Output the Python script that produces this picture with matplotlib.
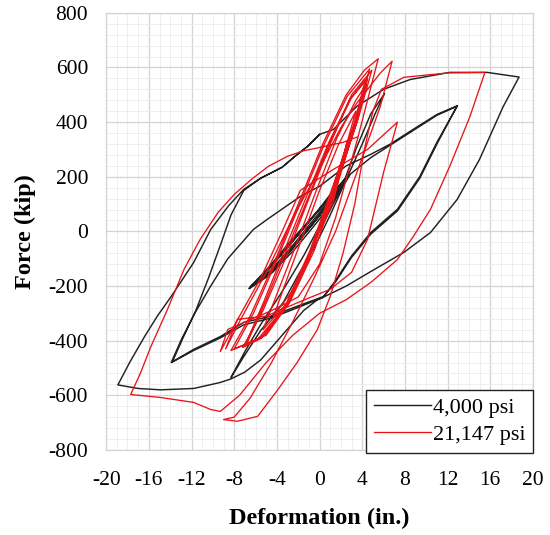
import matplotlib
matplotlib.use("Agg")
import matplotlib.pyplot as plt
from matplotlib.ticker import MultipleLocator

# ---------------- data ----------------
# 4,000 psi specimen: deformation (in.) and force (kip), cycle by cycle
black_elastic_x = [0.0, 1.2, 2.3, 1.4, -0.2, -2.2, -4.4, -6.5, -4.7, -2.6, -0.6, 1.3, 2.4,
                   1.3, -0.4, -2.4, -4.5, -6.6, -4.8, -2.7, -0.7, 1.2, 2.3,
                   1.2, -0.5, -2.5, -4.6, -6.5, -4.6, -2.5, -0.5, 1.4, 2.4,
                   1.1, -0.6, -2.6, -4.7, -6.6, -4.7, -2.6, -0.4, 1.3, 2.3,
                   1.3, -0.3, -2.3, -4.4, -6.4, -4.5, -2.4, -0.5, 1.2, 2.4]
black_elastic_y = [0, 95, 185, 120, 35, -60, -150, -205, -135, -40, 55, 140, 190,
                   125, 40, -55, -148, -208, -138, -42, 50, 135, 188,
                   120, 35, -58, -152, -204, -132, -36, 58, 145, 192,
                   112, 28, -66, -160, -210, -128, -30, 64, 150, 186,
                   130, 44, -50, -142, -200, -140, -46, 46, 128, 194]
black_c6_x = [3.5, 4.8, 6.1, 5.2, 4.0, 2.5, 1.0, -0.5, -2.0, -3.4, -5.5, -7.1, -8.3,
              -7.0, -5.5, -3.5, -1.5, 0.0, 1.5, 2.9, 4.8, 6.6, 8.8, 11.0, 12.9]
black_c6_y = [310, 430, 505, 430, 320, 190, 60, -60, -160, -260, -362, -458, -535,
              -440, -340, -220, -90, 20, 120, 210, 270, 315, 370, 425, 458]
black_c13_x = [11.0, 9.4, 7.3, 4.8, 3.0, 1.5, 0.4, -2.1, -4.6, -7.1, -9.3, -11.8, -13.9,
               -13.0, -11.7, -10.2, -8.6, -6.2, -4.9, -1.8, 0.0, 2.5, 4.8, 6.6, 8.8, 11.0, 12.9,
               11.0, 9.4, 7.3, 4.8, 3.0, 1.5, 0.3, -2.1, -4.6, -7.1, -9.3, -11.8, -13.8,
               -12.8, -11.6, -10.4, -9.2, -8.3, -7.1]
black_c13_y = [326, 201, 81, -4, -90, -180, -238, -274, -311, -333, -385, -432, -480,
               -400, -300, -200, -100, 7, 44, 128, 165, 240, 282, 319, 374, 428, 460,
               320, 195, 75, -10, -95, -185, -242, -280, -318, -342, -390, -436, -478,
               -390, -290, -170, -40, 60, 150]
black_c19_x = [-5.5, -3.9, -3.5, -2.3, -1.1, 0.0, 1.3, 3.5, 6.0, 8.5, 12.2, 15.7, 18.7,
               17.2, 15.0, 12.9, 10.4, 7.9, 4.8, 2.5, 0.4, -0.2, -1.5, -3.5, -5.5, -7.0, -8.3,
               -9.3, -11.8, -14.9, -17.0, -18.9,
               -17.8, -16.4, -15.2, -13.9, -11.8, -10.2, -8.5, -7.1, -5.5, -3.9, -3.5, -2.3, -1.1, 0.0]
black_c19_y = [195, 227, 235, 275, 312, 355, 373, 458, 520, 556, 582, 582, 565,
               456, 264, 117, -4, -77, -147, -200, -240, -250, -290, -380, -470, -515, -540,
               -553, -575, -580, -575, -562,
               -480, -385, -310, -238, -114, 7, 95, 154, 195, 227, 235, 275, 312, 355]

# 21,147 psi specimen
red_steep_x = [0.0, 1.3, 2.6, 1.8, 0.5, -1.0, -2.6, -4.3,
               -3.2, -1.6, 0.0, 1.8, 3.4, 2.4, 0.8, -1.0, -3.0, -5.3,
               -4.0, -2.2, -0.4, 1.6, 3.4, 4.4, 3.3, 1.5, -0.5, -2.8, -5.0, -6.8,
               -5.0, -3.0, -1.0, 1.0, 3.0, 4.5, 3.5, 1.3, -0.8, -3.0, -5.2, -7.0,
               -5.2, -3.3, -1.3, 0.8, 2.8, 4.3, 3.2, 1.1, -1.0, -3.2, -5.4, -7.2,
               -5.3, -3.2, -1.2, 1.0, 3.0, 4.9, 3.6, 1.5, -0.6, -3.0, -5.5, -8.0,
               -6.2, -4.0, -1.9, 0.4, 2.6, 4.7, 3.4, 1.2, -0.9, -3.3, -5.8, -8.3,
               -6.5, -4.2, -2.0, 0.3, 2.5, 4.2, 5.5]
red_steep_y = [0, 110, 330, 210, 60, -90, -220, -310,
               -190, -20, 150, 320, 440, 300, 100, -100, -260, -360,
               -230, -50, 140, 340, 480, 540, 380, 150, -70, -260, -380, -410,
               -250, -60, 130, 330, 490, 560, 400, 140, -80, -270, -380, -420,
               -255, -70, 120, 320, 480, 555, 390, 130, -90, -280, -390, -425,
               -290, -100, 100, 320, 500, 590, 410, 170, -60, -270, -390, -430,
               -300, -105, 95, 315, 495, 595, 405, 160, -70, -280, -395, -436,
               -310, -110, 100, 320, 500, 590, 632]
red_c8_x = [3.5, 1.5, 0.0, -2.0, -4.5, -8.6, -9.3,
            -7.5, -5.5, -3.5, -1.8, 1.3, 4.5, 7.3,
            6.0, 4.5, 3.0, 1.0, -2.0, -5.0, -7.7, -8.8,
            -7.5, -5.0, -2.5, 0.0, 2.0, 3.5, 5.7, 6.8,
            5.7, 3.5, 1.5, -0.5, -2.5, -4.5, -6.5, -8.0, -9.0,
            -7.7, -5.8, -3.9, -2.1, -0.2, 1.0, 2.2, 3.3, 4.2, 5.0, 5.8]
red_c8_y = [330, 50, -120, -240, -290, -359, -440,
            -310, -170, 0, 150, 227, 300, 400,
            216, -29, -150, -212, -260, -310, -322, -430,
            -330, -150, 50, 230, 380, 470, 580, 623,
            458, 216, 0, -170, -330, -480, -610, -680, -689,
            -695, -677, -579, -480, -359, -238, -80, 100, 300, 440, 520]
red_c16_x = [7.9, 12.0, 15.5,
             14.1, 12.2, 10.4, 8.8, 7.3, 4.8, 2.5, 0.0, -2.5, -5.0, -7.5, -9.3,
             -10.2, -11.8, -14.9, -17.7,
             -16.8, -15.8, -14.3, -12.7, -11.2, -9.5, -8.0, -6.4, -4.8, -3.0, -1.5, 0.0, 2.2, 3.5]
red_c16_y = [564, 580, 582,
             421, 238, 81, -18, -103, -187, -250, -300, -380, -480, -600, -659,
             -652, -626, -608, -597,
             -520, -421, -290, -139, -30, 70, 135, 190, 238, 275, 295, 307, 326, 345]

x_ticks = [-20, -16, -12, -8, -4, 0, 4, 8, 12, 16, 20]
y_ticks = [-800, -600, -400, -200, 0, 200, 400, 600, 800]
series_labels = ["4,000 psi", "21,147 psi"]

# ---------------- plot ----------------
plt.rcParams['font.family'] = ['Liberation Serif', 'DejaVu Serif']

fig = plt.figure(figsize=(5.5, 5.35), dpi=100)
ax = fig.add_axes([0.193, 0.159, 0.776, 0.817])

black_x = black_elastic_x + black_c6_x + black_c13_x + black_c19_x
black_y = black_elastic_y + black_c6_y + black_c13_y + black_c19_y
red_x = red_steep_x + red_c8_x + red_c16_x
red_y = red_steep_y + red_c8_y + red_c16_y

ax.plot(black_x, black_y, color='#222222', lw=1.05, label=series_labels[0], zorder=3)
ax.plot(red_x, red_y, color='#e8141a', lw=0.95, label=series_labels[1], zorder=4)

ax.set_xlim(-20, 20)
ax.set_ylim(-800, 800)
ax.set_xticks(x_ticks)
ax.set_yticks(y_ticks)
ax.set_xticklabels([str(v) for v in x_ticks])
ax.set_yticklabels([str(v) for v in y_ticks])
ax.xaxis.set_minor_locator(MultipleLocator(1))
ax.yaxis.set_minor_locator(MultipleLocator(40))
ax.grid(which='major', color='#d4d4d4', lw=0.9, zorder=0)
ax.grid(which='minor', color='#ececec', lw=0.6, zorder=0)
ax.set_axisbelow(True)
ax.tick_params(which='both', length=0)
ax.tick_params(axis='x', pad=15, labelsize=15.5)
ax.tick_params(axis='y', pad=13, labelsize=15.5)
for s in ax.spines.values():
    s.set_color('#d4d4d4')
    s.set_linewidth(0.9)

ax.set_xlabel('Deformation (in.)', fontsize=17.5, fontweight='bold', labelpad=13)
ax.set_ylabel('Force (kip)', fontsize=17.5, fontweight='bold', labelpad=9)

leg = ax.legend(loc='lower right', bbox_to_anchor=(1.0, -0.007), borderaxespad=0,
                fancybox=False, framealpha=1, edgecolor='#222222', fontsize=16,
                handlelength=2.6, handletextpad=0.05, borderpad=0.35, labelspacing=0.3)
leg.get_frame().set_linewidth(1.0)

fig.savefig('out.png', dpi=100)
